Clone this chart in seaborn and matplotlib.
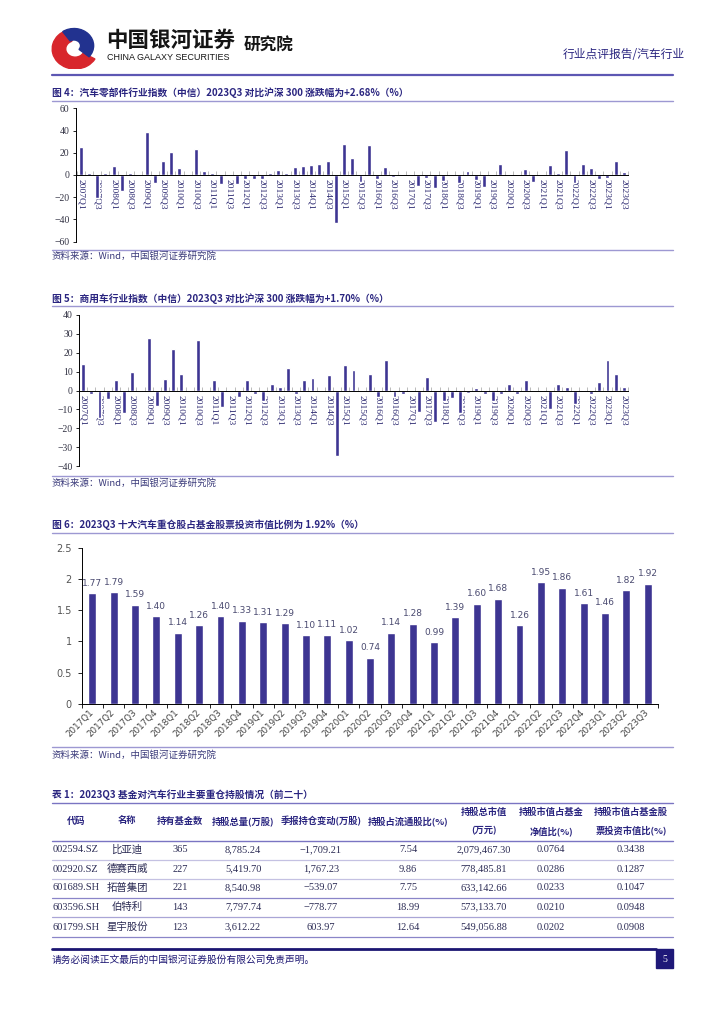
import numpy as np
import pandas as pd
import matplotlib
matplotlib.use('Agg')
import matplotlib.pyplot as plt
import seaborn as sns
from matplotlib.lines import Line2D
from matplotlib.patches import Rectangle, Wedge

# quarterly categories 2007Q1 .. 2023Q3
quarters = [f'{y}Q{q}' for y in range(2007, 2024) for q in range(1, 5)][:67]

# 图4 汽车零部件 vs 沪深300 (%)
parts_vals = [25, 2, -21, 2, 8.5, -14, 2, -1, 38.5, -7.5,
              13, 20.5, 6, 0.5, 23, 3.3, 1.8, -7.8, 0.5, -7.8,
              -4, -4, -4, 1.8, 4.2, 1.8, 7.2, 8.4, 8.7, 10,
              13, -43.6, 28, 15.5, -6.3, 26.6, -3.9, 7.2, -1.8, 0.5,
              -1.2, -9.9, -2.7, -11.6, -5.4, -0.5, -7.5, 3.3, -4.8, -10.7,
              -1.2, 10.1, 0.3, 0.3, 5, -6.3, -1.2, 8.7, 1.5, 22.7,
              -7.2, 9.6, 6, -3.9, -2.4, 12.8, 2.68]

# 图5 商用车 vs 沪深300 (%)
cv_vals = [14.2, -1.8, -14.4, -4.4, 5.4, -11.8, 10, 0.5, 27.9, -8.2,
           6.1, 22.1, 8.6, 0.2, 26.8, 0, 5.8, -8.6, 0, -3.3,
           5.8, -2.1, -5.6, 3.5, 2.1, 11.9, -1.8, 5.3, 6.8, 0,
           8.4, -34.6, 13.7, 11, 0.3, 8.6, -3.3, 16, -3.5, -1.8,
           0, -11.4, 7.4, -16.7, -5.6, -4.2, -11.8, -1.2, 1.4, -1.8,
           -5.6, -1.8, 3.2, -1.8, 5.8, 0.5, 0.5, -9.6, 3.2, 1.9,
           -7.4, 0.5, -1.8, 4.6, 16.3, 8.8, 1.70]

# 图6 十大汽车重仓股占基金股票投资市值比例 (%)
fund_quarters = quarters[40:]
fund_ratio = [1.77, 1.79, 1.59, 1.40, 1.14, 1.26, 1.40, 1.33, 1.31, 1.29,
              1.10, 1.11, 1.02, 0.74, 1.14, 1.28, 0.99, 1.39, 1.60, 1.68,
              1.26, 1.95, 1.86, 1.61, 1.46, 1.82, 1.92]

# 表1
codes = ['002594.SZ', '002920.SZ', '601689.SH', '603596.SH', '601799.SH']
names = ['比亚迪', '德赛西威', '拓普集团', '伯特利', '星宇股份']
fund_cnt = [365, 227, 221, 143, 123]
hold_qty = [8785.24, 5419.70, 8540.98, 7797.74, 3612.22]
qty_chg = [-1709.21, 1767.23, -539.07, -778.77, 603.97]
float_pct = [7.54, 9.86, 7.75, 18.99, 12.64]
mkt_val = [2079467.30, 778485.81, 633142.66, 573133.70, 549056.88]
nav_pct = [0.0764, 0.0286, 0.0233, 0.0210, 0.0202]
stock_pct = [0.3438, 0.1287, 0.1047, 0.0948, 0.0908]

BAR = '#3d3592'
NAVY = '#2a2580'
CJK = ['Noto Sans CJK SC', 'DejaVu Sans']

sns.set_theme(style='ticks')
plt.rcParams['font.family'] = CJK
plt.rcParams['axes.unicode_minus'] = True

W, H = 724, 1024


def fx(px):
    return px / W


def fy(py):
    return 1 - py / H


fig = plt.figure(figsize=(7.24, 10.24), dpi=100)


def hline(y, x0=52, x1=673, color='#9d98d2', lw=1.0):
    fig.add_artist(Line2D([fx(x0), fx(x1)], [fy(y), fy(y)], color=color, lw=lw))


def txt(x, y, s, **kw):
    kw.setdefault('va', 'center')
    fig.text(fx(x), fy(y), s, **kw)


# header
logo = fig.add_axes([fx(50), fy(69), 48 / W, 42 / H])
logo.set_xlim(-1.1, 1.1)
logo.set_ylim(-1.1, 1.1)
logo.axis('off')
logo.add_patch(Wedge((0.05, -0.05), 1.05, 110, 330, width=0.62, color='#d8262c'))
logo.add_patch(Wedge((0.0, 0.12), 0.9, -40, 125, width=0.6, color='#22328f'))
txt(106, 40, '中国银河证券', fontsize=15.5, fontweight='bold', color='#151515')
txt(107, 58, 'CHINA GALAXY SECURITIES', fontsize=6.5, family='Liberation Sans', color='#151515')
txt(244, 46, '研究院', fontsize=12, fontweight='bold', color='#151515')
txt(685, 55, '行业点评报告/汽车行业', fontsize=8.5, color=NAVY, ha='right')
hline(75, color='#5d57b3', lw=1.6)


def quarter_chart(vals, top, bottom, left, right, xlim, ylim, yticks):
    ax = fig.add_axes([fx(left), fy(bottom), fx(right) - fx(left), fy(top) - fy(bottom)])
    df = pd.DataFrame({'quarter': quarters, 'value': vals})
    sns.barplot(data=df, x='quarter', y='value', color=BAR, width=0.48,
                saturation=1, errorbar=None, ax=ax)
    ax.set_xlim(*xlim)
    ax.set_ylim(*ylim)
    ax.set_xlabel('')
    ax.set_ylabel('')
    for s in ['top', 'right']:
        ax.spines[s].set_visible(False)
    ax.spines['bottom'].set_position(('data', 0))
    for s in ['bottom', 'left']:
        ax.spines[s].set_color('black')
        ax.spines[s].set_linewidth(0.7)
    ax.set_xticks(range(0, len(quarters), 2))
    ax.set_xticklabels(quarters[::2], rotation=270, fontsize=6.8,
                       family='Liberation Serif', color='#2b2870')
    ax.set_xticks(np.arange(-0.5, len(quarters), 1), minor=True)
    ax.tick_params(axis='x', which='major', length=0, pad=3)
    ax.tick_params(axis='x', which='minor', direction='in', length=3,
                   width=0.6, color='#b0b0b0')
    ax.set_yticks(yticks)
    ax.set_yticklabels([f'{t:g}'.replace('-', '\u2212') for t in yticks],
                       fontsize=7, family='Liberation Serif', color='#333344')
    ax.tick_params(axis='y', length=2.5, width=0.6, color='black', pad=2)
    ax.patch.set_alpha(0)
    return ax


# 图4
txt(52, 93, '图 4：汽车零部件行业指数（中信）2023Q3 对比沪深 300 涨跌幅为+2.68%（%）',
    fontsize=7, fontweight='bold', color=NAVY)
hline(101)
quarter_chart(parts_vals, 108.3, 241.7, 76, 628, (-0.57, 66.5), (-60, 60),
              [-60, -40, -20, 0, 20, 40, 60])
hline(250)
txt(52, 256, '资料来源：Wind，中国银河证券研究院', fontsize=6.8, color='#3a3a7a')

# 图5
txt(52, 299, '图 5：商用车行业指数（中信）2023Q3 对比沪深 300 涨跌幅为+1.70%（%）',
    fontsize=7, fontweight='bold', color=NAVY)
hline(306)
quarter_chart(cv_vals, 315, 466, 79, 628, (-0.25, 66.5), (-40, 40),
              [-40, -30, -20, -10, 0, 10, 20, 30, 40])
hline(476)
txt(52, 483, '资料来源：Wind，中国银河证券研究院', fontsize=6.8, color='#3a3a7a')

# 图6
txt(52, 525, '图 6：2023Q3 十大汽车重仓股占基金股票投资市值比例为 1.92%（%）',
    fontsize=7, fontweight='bold', color=NAVY)
hline(533)
ax6 = fig.add_axes([fx(81.7), fy(704), fx(658.3) - fx(81.7), fy(547.7) - fy(704)])
df6 = pd.DataFrame({'quarter': fund_quarters, 'ratio': fund_ratio})
sns.barplot(data=df6, x='quarter', y='ratio', color=BAR, width=0.37,
            saturation=1, errorbar=None, ax=ax6)
ax6.bar_label(ax6.containers[0], labels=[f'{v:.2f}' for v in fund_ratio],
              padding=4, fontsize=6.5, color='#4a4a70', family='DejaVu Sans')
ax6.set_xlim(-0.5, 26.5)
ax6.set_ylim(0, 2.5)
ax6.set_xlabel('')
ax6.set_ylabel('')
for s in ['top', 'right']:
    ax6.spines[s].set_visible(False)
for s in ['bottom', 'left']:
    ax6.spines[s].set_color('black')
    ax6.spines[s].set_linewidth(0.7)
ax6.set_xticks(range(len(fund_quarters)))
ax6.set_xticklabels(fund_quarters, rotation=45, ha='right', va='center',
                    rotation_mode='anchor', fontsize=6.3, color='#444444',
                    family='DejaVu Sans')
ax6.set_xticks(np.arange(-0.5, len(fund_quarters), 1), minor=True)
ax6.tick_params(axis='x', which='major', length=0, pad=5)
ax6.tick_params(axis='x', which='minor', length=3, width=0.6, color='black')
ax6.set_yticks([0, 0.5, 1, 1.5, 2, 2.5])
ax6.set_yticklabels(['0', '0.5', '1', '1.5', '2', '2.5'], fontsize=7,
                    color='#555555', family='DejaVu Sans')
ax6.tick_params(axis='y', length=3, width=0.6, color='black', pad=4)
ax6.patch.set_alpha(0)
hline(747)
txt(52, 755, '资料来源：Wind，中国银河证券研究院', fontsize=6.8, color='#3a3a7a')

# 表1
txt(52, 795, '表 1：2023Q3 基金对汽车行业主要重仓持股情况（前二十）',
    fontsize=7, fontweight='bold', color=NAVY)
hline(803, color='#7a74c2')
hk = dict(fontsize=6.7, fontweight='bold', color=NAVY, ha='center')
txt(76, 821, '代码', **hk)
txt(127, 821, '名称', **hk)
txt(180, 821, '持有基金数', **hk)
txt(243, 821, '持股总量(万股)', **hk)
txt(321, 821, '季报持仓变动(万股)', **hk)
txt(408, 821, '持股占流通股比(%)', **hk)
txt(484, 812, '持股总市值', **hk)
txt(484, 831, '(万元)', **hk)
txt(551, 812, '持股市值占基金', **hk)
txt(551, 831, '净值比(%)', **hk)
txt(631, 812, '持股市值占基金股', **hk)
txt(631, 831, '票投资市值比(%)', **hk)
hline(841, color='#7a74c2')

row_y = [850, 869, 888, 907, 927]
row_lines = [860, 879, 898, 917, 937]
row_line_col = ['#c4c1e2', '#c4c1e2', '#8a85c8', '#a9a5d6', '#8a85c8']
nk = dict(fontsize=7.5, family='Liberation Serif', color='#2c2c55', ha='center')
for i, y in enumerate(row_y):
    txt(53, y, codes[i], fontsize=7.5, family='Liberation Serif', color='#2c2c55')
    txt(127, y, names[i], fontsize=7.5, color='#2c2c55', ha='center')
    txt(180, y, str(fund_cnt[i]), **nk)
    txt(243, y, f'{hold_qty[i]:,.2f}', **nk)
    txt(321, y, f'{qty_chg[i]:,.2f}'.replace('-', '\u2212'), **nk)
    txt(408, y, f'{float_pct[i]:.2f}', **nk)
    txt(484, y, f'{mkt_val[i]:,.2f}', **nk)
    txt(551, y, f'{nav_pct[i]:.4f}', **nk)
    txt(631, y, f'{stock_pct[i]:.4f}', **nk)
    hline(row_lines[i], color=row_line_col[i], lw=0.9)

# footer
hline(949, x1=656, color='#1c1672', lw=2)
fig.add_artist(Rectangle((fx(656), fy(968)), 17 / W, 19 / H, color='#1e1878'))
txt(664.5, 959, '5', fontsize=7, family='Liberation Serif', color='white', ha='center')
txt(52, 960, '请务必阅读正文最后的中国银河证券股份有限公司免责声明。',
    fontsize=7, color='#1c1672')

fig.savefig('out.png', dpi=100)
